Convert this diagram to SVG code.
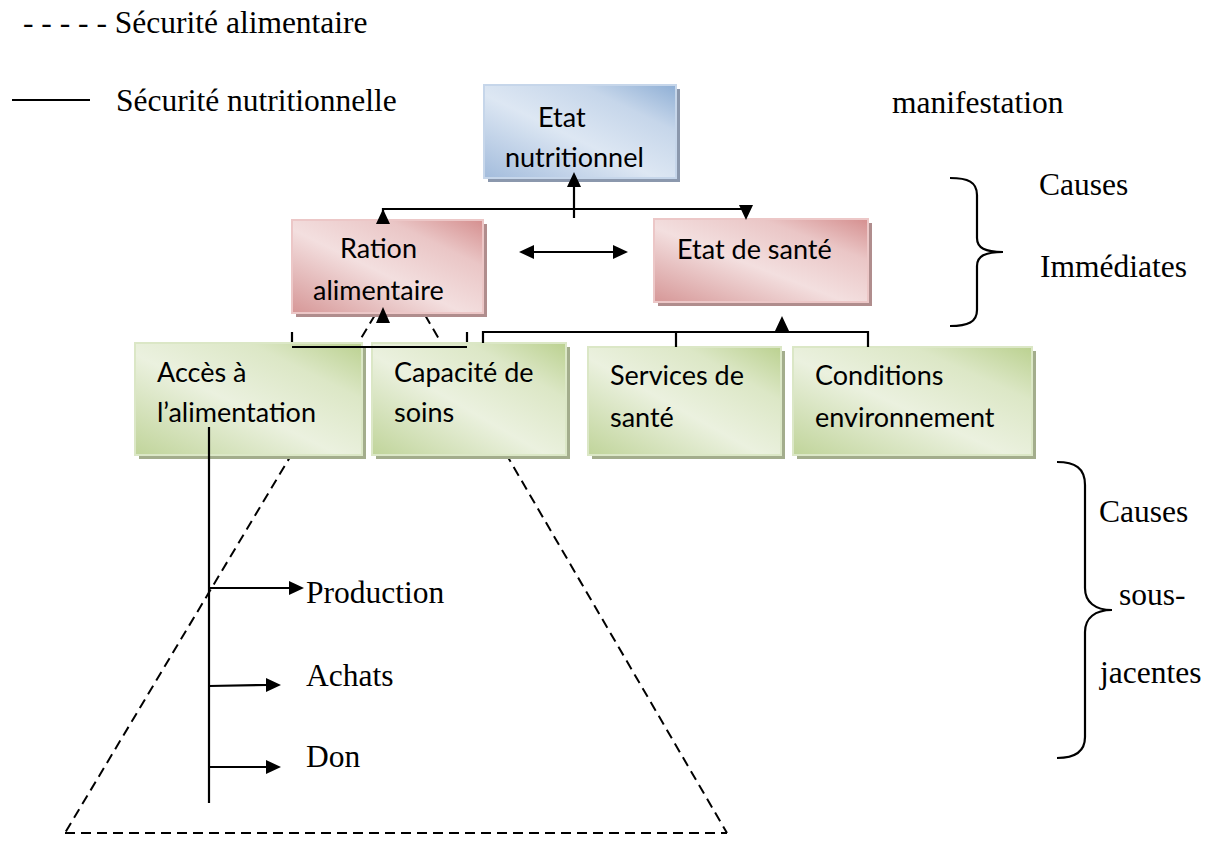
<svg xmlns="http://www.w3.org/2000/svg" width="1210" height="843" viewBox="0 0 1210 843">
  <defs>
    <linearGradient id="gBlue" x1="0" y1="1" x2="1" y2="0">
      <stop offset="0" stop-color="#a3bcdc"/>
      <stop offset="0.45" stop-color="#dde7f3"/>
      <stop offset="0.75" stop-color="#c6d6ea"/>
      <stop offset="1" stop-color="#8fafd5"/>
    </linearGradient>
    <linearGradient id="gRed" x1="0" y1="1" x2="1" y2="0">
      <stop offset="0" stop-color="#d69797"/>
      <stop offset="0.45" stop-color="#f3dfdf"/>
      <stop offset="0.75" stop-color="#eac6c6"/>
      <stop offset="1" stop-color="#d58f8f"/>
    </linearGradient>
    <linearGradient id="gGreen" x1="0" y1="1" x2="1" y2="0">
      <stop offset="0" stop-color="#c0d49a"/>
      <stop offset="0.45" stop-color="#ebf1df"/>
      <stop offset="0.75" stop-color="#dce7c6"/>
      <stop offset="1" stop-color="#bbd190"/>
    </linearGradient>
  </defs>
  <style>
    .serif { font-family: "Liberation Serif", "Times New Roman", serif; font-size: 31.5px; fill: #000; }
    .box { font-family: Lato, "Open Sans", sans-serif; font-size: 27px; fill: #000; }
    .blue { fill: url(#gBlue); stroke: #c6d6ea; stroke-width: 2; }
    .red { fill: url(#gRed); stroke: #ecc7c7; stroke-width: 2; }
    .green { fill: url(#gGreen); stroke: #dbe7c6; stroke-width: 2; }
    .shBlue { fill: #8b98ad; }
    .shRed { fill: #b08d8d; }
    .shGreen { fill: #a3ad8c; }
    .ln { fill: none; stroke: #000; stroke-width: 2.2; }
    .dash { fill: none; stroke: #000; stroke-width: 2; stroke-dasharray: 10 6; }
    .head { fill: #000; }
  </style>

  <g id="legend">
    <text class="serif" x="23" y="33">- - - - - Sécurité alimentaire</text>
    <line class="ln" x1="12" y1="100" x2="90" y2="100"/>
    <text class="serif" x="116" y="111">Sécurité nutritionnelle</text>
  </g>

  <g id="zone-securite-alimentaire">
    <line class="dash" x1="375" y1="315" x2="65" y2="833"/>
    <line class="dash" x1="425" y1="315" x2="727" y2="833"/>
    <line class="dash" x1="65" y1="833" x2="727" y2="833"/>
  </g>

  <g id="etat-nutritionnel">
    <rect class="shBlue" x="488" y="89" width="192" height="93"/>
    <rect class="blue" x="484" y="85" width="192" height="93"/>
    <text class="box" x="538" y="127">Etat</text>
    <text class="box" x="505" y="167">nutritionnel</text>
  </g>

  <g id="ration-alimentaire">
    <rect class="shRed" x="296" y="224" width="191" height="93"/>
    <rect class="red" x="292" y="220" width="191" height="93"/>
    <text class="box" x="340" y="258">Ration</text>
    <text class="box" x="313" y="300">alimentaire</text>
  </g>

  <g id="etat-de-sante">
    <rect class="shRed" x="658" y="223" width="214" height="83"/>
    <rect class="red" x="654" y="219" width="214" height="83"/>
    <text class="box" x="677" y="259">Etat de santé</text>
  </g>

  <g id="acces-alimentation">
    <rect class="shGreen" x="139" y="347" width="227" height="112"/>
    <rect class="green" x="135" y="343" width="227" height="112"/>
    <text class="box" x="157" y="382">Accès à</text>
    <text class="box" x="157" y="422">l’alimentation</text>
  </g>

  <g id="capacite-soins">
    <rect class="shGreen" x="376" y="347" width="194" height="112"/>
    <rect class="green" x="372" y="343" width="194" height="112"/>
    <text class="box" x="394" y="382">Capacité de</text>
    <text class="box" x="394" y="422">soins</text>
  </g>

  <g id="services-sante">
    <rect class="shGreen" x="592" y="351" width="193" height="108"/>
    <rect class="green" x="588" y="347" width="193" height="108"/>
    <text class="box" x="610" y="385">Services de</text>
    <text class="box" x="610" y="427">santé</text>
  </g>

  <g id="conditions-environnement">
    <rect class="shGreen" x="797" y="351" width="239" height="108"/>
    <rect class="green" x="793" y="347" width="239" height="108"/>
    <text class="box" x="815" y="385">Conditions</text>
    <text class="box" x="815" y="427">environnement</text>
  </g>

  <g id="connectors">
    <line class="ln" x1="574" y1="218" x2="574" y2="184"/>
    <polygon class="head" points="574,172 567,187 581,187"/>
    <polyline class="ln" points="383,222 383,209 746,209 746,212"/>
    <polygon class="head" points="383,209 376,224 390,224"/>
    <polygon class="head" points="739,205 753,205 746,220"/>
    <line class="ln" x1="532" y1="252" x2="615" y2="252"/>
    <polygon class="head" points="519,252 534,245 534,259"/>
    <polygon class="head" points="628,252 613,245 613,259"/>
    <polygon class="head" points="383,307 376,323 390,323"/>
    <line class="ln" x1="292" y1="332" x2="292" y2="342"/>
    <line class="ln" x1="467" y1="332" x2="467" y2="342"/>
    <line class="ln" x1="292" y1="347" x2="467" y2="347"/>
    <polyline class="ln" points="483,343 483,332 868,332 868,347"/>
    <line class="ln" x1="676" y1="332" x2="676" y2="347"/>
    <polygon class="head" points="782,316 775,331 789,331"/>
    <line class="ln" x1="209" y1="427" x2="209" y2="803"/>
    <line class="ln" x1="209" y1="588" x2="290" y2="588"/>
    <polygon class="head" points="304,588 289,581 289,595"/>
    <line class="ln" x1="209" y1="686" x2="267" y2="685"/>
    <polygon class="head" points="281,685 266,678 266,692"/>
    <line class="ln" x1="209" y1="767" x2="267" y2="767"/>
    <polygon class="head" points="281,767 266,760 266,774"/>
  </g>

  <g id="labels-right">
    <text class="serif" x="892" y="113">manifestation</text>
    <path class="ln" d="M950,178 C968,178 977,182 977,195 L977,238 C977,248 985,252 1003,252 C985,252 977,256 977,266 L977,310 C977,322 968,326 950,326"/>
    <text class="serif" x="1039" y="195">Causes</text>
    <text class="serif" x="1040" y="277">Immédiates</text>
    <path class="ln" d="M1057,462 C1075,462 1085,468 1085,485 L1085,588 C1085,602 1095,610 1112,610 C1095,610 1085,618 1085,632 L1085,737 C1085,752 1075,758 1057,758"/>
    <text class="serif" x="1099" y="522">Causes</text>
    <text class="serif" x="1119" y="605">sous-</text>
    <text class="serif" x="1100" y="683">jacentes</text>
  </g>

  <g id="sub-labels">
    <text class="serif" x="306" y="603">Production</text>
    <text class="serif" x="306" y="686">Achats</text>
    <text class="serif" x="306" y="767">Don</text>
  </g>
</svg>
